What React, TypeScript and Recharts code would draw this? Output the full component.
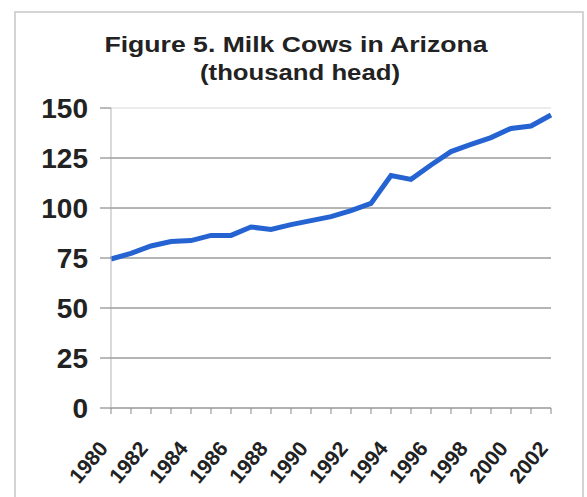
import * as React from "react"
import { LineChart, Line, XAxis, YAxis, CartesianGrid, ReferenceLine } from "recharts"

const years = [
  "1980", "1981", "1982", "1983", "1984", "1985", "1986", "1987", "1988", "1989", "1990", "1991",
  "1992", "1993", "1994", "1995", "1996", "1997", "1998", "1999", "2000", "2001", "2002",
]
const cows = [
  74.5, 77.3, 81, 83.2, 83.7, 86.3, 86.3, 90.5, 89.3, 91.7, 93.7, 95.7,
  98.7, 102.3, 116.2, 114.3, 121.5, 128.2, 131.8, 135.2, 139.8, 141, 146.5,
]
const yTicks = [0, 25, 50, 75, 100, 125, 150]
const gridValues = [25, 50, 75, 100, 125]

const data = years.map((year, i) => ({ year, cows: cows[i] }))

const FONT = "'Liberation Sans', Arial, sans-serif"

const YTick = (props: any) => {
  const { x, y, payload } = props
  return (
    <text x={x} y={y} dy="0.36em" textAnchor="end" fontFamily={FONT} fontWeight="bold" fontSize={28} fill="#222">
      {payload.value}
    </text>
  )
}

const XTick = (props: any) => {
  const { x, y, payload, index } = props
  if (index % 2 !== 0) {
    return <g />
  }
  return (
    <text
      transform={`translate(${x - 2},${y + 33}) rotate(-50)`}
      textAnchor="end"
      fontFamily={FONT}
      fontWeight="bold"
      fontSize={21}
      fill="#222">
      {payload.value}
    </text>
  )
}

export default function App() {
  return (
    <div style={{ position: "absolute", left: 0, top: 0, width: 587, height: 497, background: "#fff", overflow: "hidden" }}>
      <div
        style={{
          position: "absolute",
          left: 14,
          top: 11,
          width: 566,
          height: 500,
          border: "2px solid #d4d4d4",
        }}
      />
      <svg width={587} height={100} style={{ position: "absolute", left: 0, top: 0 }}>
        <text
          x={296}
          y={52}
          textAnchor="middle"
          fontFamily={FONT}
          fontWeight="bold"
          fontSize={22}
          fill="#222"
          textLength={383}
          lengthAdjust="spacingAndGlyphs">
          Figure 5.  Milk Cows in Arizona
        </text>
        <text
          x={300}
          y={80}
          textAnchor="middle"
          fontFamily={FONT}
          fontWeight="bold"
          fontSize={22}
          fill="#222"
          textLength={200}
          lengthAdjust="spacingAndGlyphs">
          (thousand head)
        </text>
      </svg>
      <div style={{ position: "absolute", left: 0, top: 0 }}>
        <LineChart width={587} height={497} data={data} margin={{ top: 108, right: 36, bottom: 0, left: 0 }}>
          <CartesianGrid vertical={false} horizontalValues={gridValues} stroke="#6a6a6a" strokeWidth={1} />
          <ReferenceLine y={150} stroke="#d8d8d8" strokeWidth={1} />
          <XAxis
            dataKey="year"
            interval={0}
            height={89}
            tickSize={6}
            tick={XTick}
            axisLine={{ stroke: "#666", strokeWidth: 1.2 }}
            tickLine={{ stroke: "#888" }}
          />
          <YAxis
            width={111}
            domain={[0, 150]}
            ticks={yTicks}
            tickSize={11}
            tickMargin={12}
            tick={YTick}
            axisLine={{ stroke: "#b4b4b4" }}
            tickLine={{ stroke: "#777" }}
          />
          <Line
            type="linear"
            dataKey="cows"
            stroke="#2463d1"
            strokeWidth={5}
            dot={false}
            isAnimationActive={false}
          />
        </LineChart>
      </div>
    </div>
  )
}
